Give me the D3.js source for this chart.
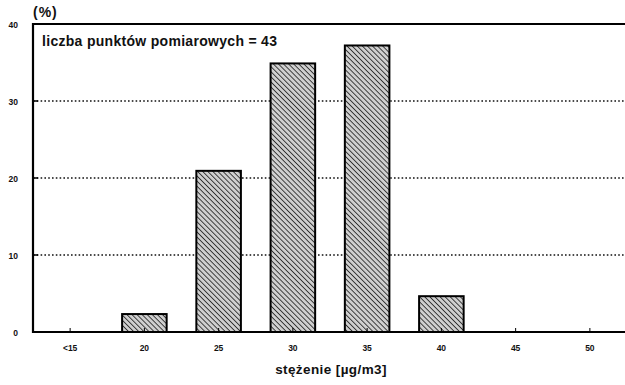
<!DOCTYPE html>
<html>
<head>
<meta charset="utf-8">
<script src="https://cdn.jsdelivr.net/npm/d3@7"></script>
<style>
  html, body { margin: 0; padding: 0; background: #fff; }
  svg { display: block; font-family: "Liberation Sans", Arial, sans-serif; }
</style>
</head>
<body>
<svg id="chart" width="625" height="385"></svg>
<script>
// Concentration classes (µg/m3) and share of measuring points in each (%)
const categories = ["<15", "20", "25", "30", "35", "40", "45", "50"];
const shares = [0, 2.33, 20.93, 34.88, 37.21, 4.65, 0, 0];
const yTicks = [0, 10, 20, 30, 40];
const gridValues = [10, 20, 30];
const legendText = "liczba punktów pomiarowych = 43";
const yUnit = "(%)";
const xTitle = "stężenie [µg/m3]";

const svg = d3.select("#chart");
const plotLeft = 33, plotRight = 627, plotTop = 24, plotBottom = 332;

const x = d3.scaleBand().domain(categories).range([plotLeft, plotRight])
  .paddingInner(0.4).paddingOuter(0.2);
const y = d3.scaleLinear().domain([0, 40]).range([plotBottom, plotTop]);

// diagonal hatch fill for the bars
const defs = svg.append("defs");
const pat = defs.append("pattern")
  .attr("id", "hatch")
  .attr("patternUnits", "userSpaceOnUse")
  .attr("width", 3.6).attr("height", 3.6)
  .attr("patternTransform", "rotate(-45)");
pat.append("rect").attr("width", 3.6).attr("height", 3.6).attr("fill", "#cfcfcf");
pat.append("line").attr("x1", 0).attr("y1", 0).attr("x2", 0).attr("y2", 3.6)
  .attr("stroke", "#262626").attr("stroke-width", 1.7);

// dotted gridlines
svg.append("g").selectAll("line").data(gridValues).join("line")
  .attr("x1", plotLeft).attr("x2", 625)
  .attr("y1", d => y(d)).attr("y2", d => y(d))
  .attr("stroke", "#111").attr("stroke-width", 1.4)
  .attr("stroke-dasharray", "1.6,2.2");

// bars
svg.append("g").selectAll("rect").data(categories.map((c, i) => ({c, v: shares[i]})).filter(d => d.v > 0))
  .join("rect")
  .attr("x", d => x(d.c))
  .attr("width", x.bandwidth())
  .attr("y", d => y(d.v))
  .attr("height", d => y(0) - y(d.v))
  .attr("fill", "url(#hatch)")
  .attr("stroke", "#000").attr("stroke-width", 2);

// frame: left axis line, top line, baseline
svg.append("line").attr("x1", plotLeft).attr("x2", plotLeft).attr("y1", plotTop - 1).attr("y2", plotBottom + 1)
  .attr("stroke", "#000").attr("stroke-width", 2.2);
svg.append("line").attr("x1", plotLeft).attr("x2", 625).attr("y1", plotTop).attr("y2", plotTop)
  .attr("stroke", "#000").attr("stroke-width", 2.2);
svg.append("line").attr("x1", plotLeft).attr("x2", 625).attr("y1", plotBottom).attr("y2", plotBottom)
  .attr("stroke", "#000").attr("stroke-width", 2.2);

// y axis labels
const yAxis = d3.axisLeft(y).tickValues(yTicks).tickSize(0).tickPadding(15).tickFormat(d3.format("d"));
const gy = svg.append("g").attr("transform", `translate(${plotLeft},0)`).call(yAxis);
gy.select(".domain").remove();
gy.selectAll("text").attr("font-size", 8.5).attr("font-weight", "bold").attr("fill", "#111")
  .attr("font-family", "'Liberation Sans', Arial, sans-serif")
  .attr("dy", "0.36em");
// short inner tick marks on the y axis
svg.append("g").selectAll("line").data(gridValues).join("line")
  .attr("x1", plotLeft).attr("x2", plotLeft + 5)
  .attr("y1", d => y(d)).attr("y2", d => y(d))
  .attr("stroke", "#000").attr("stroke-width", 1.5);

// x axis labels and small ticks
const xAxis = d3.axisBottom(x).tickSize(0).tickPadding(13);
const gx = svg.append("g").attr("transform", `translate(0,${plotBottom})`).call(xAxis);
gx.select(".domain").remove();
gx.selectAll("text").attr("font-size", 8.5).attr("font-weight", "bold").attr("fill", "#111")
  .attr("font-family", "'Liberation Sans', Arial, sans-serif");
svg.append("g").selectAll("line").data(categories).join("line")
  .attr("x1", d => x(d) + x.bandwidth() / 2).attr("x2", d => x(d) + x.bandwidth() / 2)
  .attr("y1", plotBottom).attr("y2", plotBottom - 4)
  .attr("stroke", "#000").attr("stroke-width", 1);

// unit label, legend note, axis title
svg.append("text").attr("x", 33).attr("y", 17).attr("font-size", 14).attr("font-weight", "bold")
  .attr("letter-spacing", "1").attr("fill", "#111").text(yUnit);
svg.append("text").attr("x", 42).attr("y", 46).attr("font-size", 14).attr("font-weight", "bold")
  .attr("letter-spacing", "0.3").attr("fill", "#111").text(legendText);
svg.append("text").attr("x", 331).attr("y", 374).attr("text-anchor", "middle")
  .attr("font-size", 13.5).attr("font-weight", "bold").attr("letter-spacing", "0.4")
  .attr("fill", "#111").text(xTitle);
</script>
</body>
</html>
